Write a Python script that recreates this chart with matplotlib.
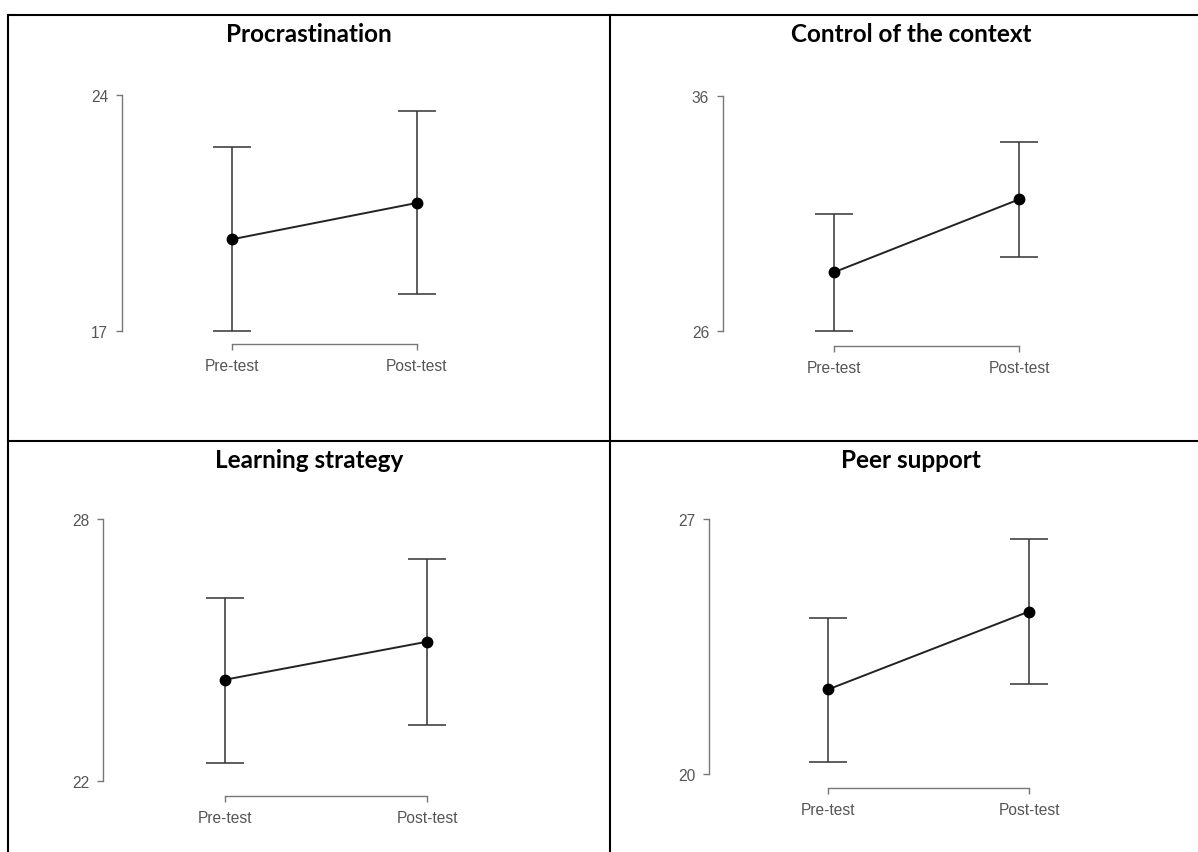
import matplotlib
matplotlib.use('Agg')
from matplotlib import pyplot as plt
from matplotlib.lines import Line2D

W, H = 1198, 853

# Dados
titulos = ['Procrastination', 'Control of the context', 'Learning strategy', 'Peer support']
momentos = ['Pre-test', 'Post-test']
medias = [[19.72, 20.8], [28.5, 31.6], [24.32, 25.19], [22.32, 24.46]]
limite_sup = [[22.45, 23.52], [31.0, 34.06], [26.2, 27.08], [24.29, 26.45]]
limite_inf = [[17.0, 18.1], [26.0, 29.13], [22.42, 23.29], [20.34, 22.46]]
eixo_y = [(17, 24), (26, 36), (22, 28), (20, 27)]

# Posicoes em pixels (x do eixo y, x pre, x pos, y topo, y base, y do eixo x)
caixas = [
    (122, 232, 417, 96, 332, 345),
    (723, 834, 1019, 97, 332, 347),
    (103, 225, 427, 520, 782, 797),
    (709, 828, 1029, 520, 775, 789),
]
titulo_pos = [(309, 42), (911, 42), (309, 468), (911, 468)]

fig = plt.figure(figsize=(W / 100, H / 100), dpi=100)

# Linhas da tabela
cor_tab = 'black'
lw_tab = 1.5
def linha(x0, y0, x1, y1):
    fig.add_artist(Line2D([x0 / W, x1 / W], [1 - y0 / H, 1 - y1 / H],
                          color=cor_tab, lw=lw_tab, transform=fig.transFigure))
linha(8, 16, 1198, 16)
linha(8, 16, 8, 853)
linha(610, 16, 610, 853)
linha(8, 442, 1198, 442)

for i in range(4):
    sx, px, qx, yt, yb, bx = caixas[i]
    fig.text(titulo_pos[i][0] / W, 1 - titulo_pos[i][1] / H, titulos[i],
             ha='center', va='baseline', fontsize=17.5, fontweight='bold',
             family='Lato')

    # eixo: esquerda no eixo y, pre em x=0, pos em x=1
    escala = qx - px
    x_esq = (sx - px) / escala
    direita = qx + 60
    x_dir = (direita - px) / escala
    ax = fig.add_axes([sx / W, 1 - yb / H, (direita - sx) / W, (yb - yt) / H])
    ax.set_xlim(x_esq, x_dir)
    ax.set_ylim(eixo_y[i])
    ax.patch.set_alpha(0)

    xs = [0, 1]
    m = medias[i]
    err = [[m[k] - limite_inf[i][k] for k in range(2)],
           [limite_sup[i][k] - m[k] for k in range(2)]]
    ax.errorbar(xs, m, yerr=err, fmt='none', ecolor='#333333', elinewidth=1.1,
                capsize=13.7, capthick=1.1, clip_on=False)
    ax.plot(xs, m, color='#222222', lw=1.4, marker='o', markersize=7.5,
            markerfacecolor='black', markeredgecolor='black', clip_on=False)

    for lado in ['top', 'right']:
        ax.spines[lado].set_visible(False)
    ax.spines['left'].set_bounds(*eixo_y[i])
    ax.spines['bottom'].set_bounds(0, 1)
    ax.spines['bottom'].set_position(('outward', (bx - yb) * 0.72))
    for lado in ['left', 'bottom']:
        ax.spines[lado].set_color('#777777')
        ax.spines[lado].set_linewidth(1.0)

    ax.set_yticks(list(eixo_y[i]))
    ax.set_xticks(xs)
    ax.set_xticklabels(momentos)
    ax.tick_params(axis='both', colors='#777777', length=4.5, width=1.0,
                   labelcolor='#555555', labelsize=11.2, pad=5.5)
    for t in ax.get_xticklabels() + ax.get_yticklabels():
        t.set_family('Liberation Sans')

fig.savefig('out.png', dpi=100)
